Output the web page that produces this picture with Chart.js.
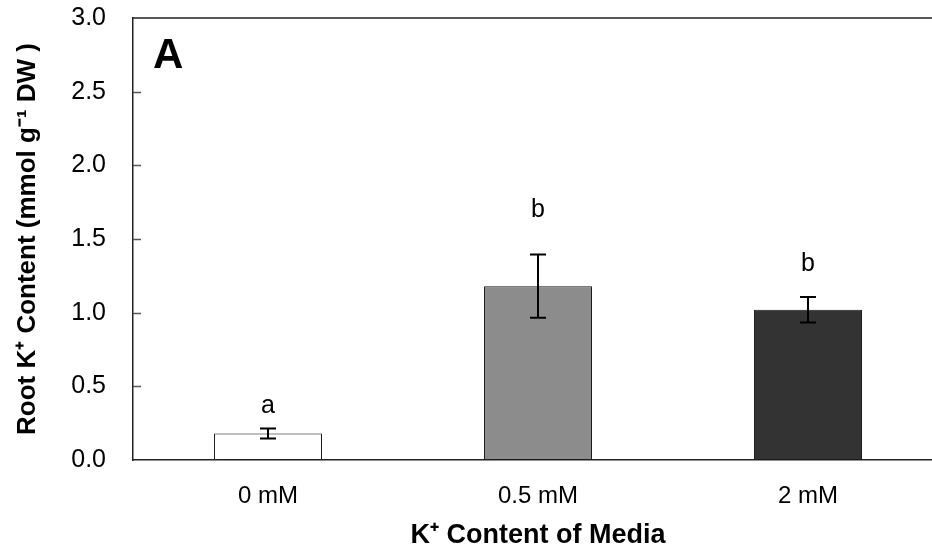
<!DOCTYPE html>
<html>
<head>
<meta charset="utf-8">
<script src="https://cdn.jsdelivr.net/npm/chart.js@4.4.1/dist/chart.umd.min.js"></script>
<style>
  html, body { margin: 0; padding: 0; background: #fff; overflow: hidden; }
  #wrap { width: 950px; height: 554px; }
</style>
</head>
<body>
<div id="wrap"><canvas id="myChart" width="950" height="554"></canvas></div>
<script>
// data
const categories = ['0 mM', '0.5 mM', '2 mM'];
const rootK = [0.18, 1.18, 1.02];
const rootKErr = [0.034, 0.215, 0.086];
const sigLetters = ['a', 'b', 'b'];
const letterLevels = [0.32, 1.65, 1.28];
const yTicks = [0, 0.5, 1.0, 1.5, 2.0, 2.5, 3.0];

const barFill = ['#ffffff', '#8c8c8c', '#333333'];

const extras = {
    id: 'extras',
    beforeDatasetsDraw(chart) {
        const ctx = chart.ctx;
        ctx.save();
        ctx.shadowColor = 'rgba(0,0,0,0.25)';
        ctx.shadowBlur = 4;
        ctx.shadowOffsetX = 1;
        ctx.shadowOffsetY = 1;
    },
    afterDatasetsDraw(chart) {
        const ctx = chart.ctx;
        ctx.restore();
        const area = chart.chartArea;
        const y = chart.scales.y;
        const bars = chart.getDatasetMeta(0).data;

        // error bars
        ctx.save();
        ctx.strokeStyle = '#000';
        ctx.lineWidth = 2;
        bars.forEach((bar, i) => {
            const top = y.getPixelForValue(rootK[i] + rootKErr[i]);
            const bot = y.getPixelForValue(rootK[i] - rootKErr[i]);
            ctx.beginPath();
            ctx.moveTo(bar.x, top); ctx.lineTo(bar.x, bot);
            ctx.moveTo(bar.x - 8, top); ctx.lineTo(bar.x + 8, top);
            ctx.moveTo(bar.x - 8, bot); ctx.lineTo(bar.x + 8, bot);
            ctx.stroke();
        });

        // significance letters
        ctx.fillStyle = '#000';
        ctx.font = '25px "Liberation Sans", Arial, sans-serif';
        ctx.textAlign = 'center';
        ctx.textBaseline = 'alphabetic';
        bars.forEach((bar, i) => {
            ctx.fillText(sigLetters[i], bar.x, y.getPixelForValue(letterLevels[i]));
        });

        // panel label
        ctx.font = 'bold 42px "Liberation Sans", Arial, sans-serif';
        ctx.textAlign = 'left';
        ctx.fillText('A', area.left + 20, area.top + 50);

        // top frame line and inward ticks
        ctx.strokeStyle = '#222';
        ctx.lineWidth = 1.5;
        ctx.beginPath();
        ctx.moveTo(area.left, area.top);
        ctx.lineTo(area.right, area.top);
        ctx.stroke();
        ctx.strokeStyle = '#555';
        ctx.lineWidth = 1.5;
        yTicks.forEach(v => {
            if (v === 0 || v === 3.0) return;
            const py = Math.round(y.getPixelForValue(v)) + 0.5;
            ctx.beginPath();
            ctx.moveTo(area.left, py);
            ctx.lineTo(area.left + 8, py);
            ctx.stroke();
        });
        ctx.restore();
    }
};

const ctx = document.getElementById('myChart').getContext('2d');
const myChart = new Chart(ctx, {
    type: 'bar',
    data: {
        labels: categories,
        datasets: [{
            data: rootK,
            backgroundColor: barFill,
            borderColor: '#222',
            borderWidth: 1,
            borderSkipped: false,
            categoryPercentage: 1.0,
            barPercentage: 0.4
        }]
    },
    options: {
        responsive: false,
        animation: false,
        events: [],
        layout: { padding: { top: 18, right: 7, left: 0, bottom: 0 } },
        plugins: {
            legend: { display: false },
            tooltip: { enabled: false }
        },
        scales: {
            x: {
                grid: { display: false },
                border: { display: true, color: '#222', width: 1.5 },
                ticks: {
                    color: '#000',
                    padding: 14,
                    font: { family: '"Liberation Sans", Arial, sans-serif', size: 24 }
                },
                title: {
                    display: true,
                    text: 'K⁺ Content of Media',
                    color: '#000',
                    padding: { top: 0, bottom: 2 },
                    font: { family: '"Liberation Sans", Arial, sans-serif', size: 27, weight: 'bold' }
                },
                afterFit(scale) {
                    scale.height = 94;
                    scale.paddingLeft = 0;
                    scale.paddingRight = 0;
                }
            },
            y: {
                min: 0,
                max: 3.0,
                grid: { display: false },
                border: { display: true, color: '#222', width: 1.5 },
                afterBuildTicks(scale) { scale.ticks = yTicks.map(v => ({ value: v })); },
                ticks: {
                    color: '#000',
                    padding: 19,
                    callback: v => v.toFixed(1),
                    font: { family: '"Liberation Sans", Arial, sans-serif', size: 25 }
                },
                title: {
                    display: true,
                    text: 'Root K⁺ Content (mmol g⁻¹ DW )',
                    color: '#000',
                    padding: { top: 12, bottom: 0 },
                    font: { family: '"Liberation Sans", Arial, sans-serif', size: 26, weight: 'bold' }
                },
                afterFit(scale) {
                    scale.width = 133;
                    scale.paddingTop = 0;
                    scale.paddingBottom = 0;
                }
            }
        }
    },
    plugins: [extras]
});
</script>
</body>
</html>
